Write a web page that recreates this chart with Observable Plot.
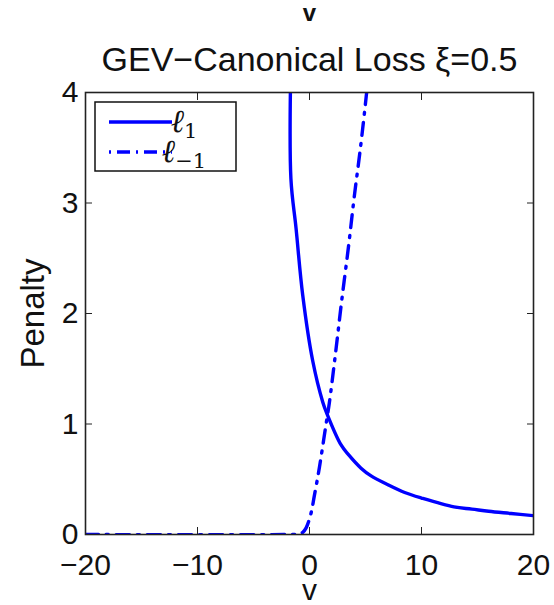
<!DOCTYPE html>
<html>
<head>
<meta charset="utf-8">
<script src="https://cdn.jsdelivr.net/npm/d3@7"></script>
<script src="https://cdn.jsdelivr.net/npm/@observablehq/plot@0.6"></script>
<style>
  html, body { margin: 0; padding: 0; background: #fff; }
  #chart { width: 554px; height: 605px; overflow: hidden; }
</style>
</head>
<body>
<div id="chart"></div>
<script>
// Axis ticks
const xTicks = [-20, -10, 0, 10, 20];
const yTicks = [0, 1, 2, 3, 4];

// Loss for label +1 (solid); runs off the top of the axes just left of v = -1.6
const vPos    = [-1.66, -1.66, -1.2, -0.61, 0.29, 1.18, 1.57, 2.82, 3.5, 4.6, 5.5, 7.0, 8.5, 10, 12.9, 14.5, 16, 18, 20];
const lossPos = [4.3,   3.22,  2.77, 2.17,  1.57, 1.2,  1.09, 0.81, 0.72, 0.6, 0.53, 0.45, 0.38, 0.33, 0.25, 0.23, 0.21, 0.19, 0.17];

// Loss for label -1 (dash-dot); zero on the left, then rising steeply past v = 0
const vNeg    = [-20, -2, -1, -0.6, -0.3, 0.13, 0.43, 0.79, 1.03, 1.48, 1.77, 2.3, 2.88, 3.5, 4.0, 4.55, 5.06, 5.2];
const lossNeg = [0,    0,  0.005, 0.02, 0.06, 0.19, 0.35, 0.55, 0.7, 1.0, 1.19, 1.62, 2.12, 2.62, 3.06, 3.5, 3.96, 4.1];

const titleText = "GEV\u2212Canonical Loss \u03BE=0.5";
const xLabel = "v";
const yLabel = "Penalty";

const pos = d3.zip(vPos, lossPos).map(([v, p]) => ({v, p}));
const neg = d3.zip(vNeg, lossNeg).map(([v, p]) => ({v, p}));

const blue = "#0000ff";
const ink = "#111";
const font = "'Liberation Sans', Arial, Helvetica, sans-serif";
const fmt = d => d < 0 ? "\u2212" + Math.abs(d) : String(d);

const plot = Plot.plot({
  width: 554,
  height: 605,
  marginLeft: 85,
  marginRight: 21,
  marginTop: 92,
  marginBottom: 71,
  style: {fontFamily: font, fontSize: "30px", color: ink, background: "#fff"},
  x: {domain: [-20, 20]},
  y: {domain: [0, 4]},
  marks: [
    Plot.lineY(neg, {x: "v", y: "p", stroke: blue, strokeWidth: 3.4, strokeDasharray: "13,8,2,8", curve: "catmull-rom", clip: true}),
    Plot.lineY(pos, {x: "v", y: "p", stroke: blue, strokeWidth: 3.4, curve: "catmull-rom", clip: true}),
    Plot.frame({stroke: "#222", strokeWidth: 1.6}),
    Plot.axisX({ticks: xTicks, tickSize: -7, tickPadding: 26, tickFormat: fmt, label: null, stroke: "#222", fontSize: 30, anchor: "bottom"}),
    Plot.axisX({ticks: xTicks, tickSize: -7, tickFormat: () => "", label: null, stroke: "#222", anchor: "top"}),
    Plot.axisY({ticks: yTicks, tickSize: -7, tickPadding: 14, tickFormat: fmt, label: null, stroke: "#222", fontSize: 30, anchor: "left"}),
    Plot.axisY({ticks: yTicks, tickSize: -7, tickFormat: () => "", label: null, stroke: "#222", anchor: "right"}),
    Plot.text([titleText], {frameAnchor: "top", dy: -22, fontSize: 34, lineAnchor: "bottom", fill: ink}),
    Plot.text(["v"], {frameAnchor: "top", dy: -72, fontSize: 24, fontWeight: "bold", lineAnchor: "bottom", fill: ink}),
    Plot.text([xLabel], {frameAnchor: "bottom", dy: 56, fontSize: 30, lineAnchor: "middle", fill: ink}),
    Plot.text([yLabel], {frameAnchor: "left", dx: -52, rotate: -90, fontSize: 33, textAnchor: "middle", lineAnchor: "middle", fill: ink})
  ]
});

document.getElementById("chart").appendChild(plot);

// Legend box in the upper-left corner of the axes
const svg = d3.select(plot);
const lg = svg.append("g").attr("transform", "translate(95,102)");
lg.append("rect").attr("width", 141).attr("height", 69)
  .attr("fill", "#fff").attr("stroke", ink).attr("stroke-width", 1.5);
const entries = [
  {dash: null, sub: "1", y: 20},
  {dash: "2,6,13,6", sub: "\u22121", y: 50}
];
for (const e of entries) {
  const ln = lg.append("line").attr("x1", 14).attr("x2", 77).attr("y1", e.y).attr("y2", e.y)
    .attr("stroke", blue).attr("stroke-width", 3.6);
  if (e.dash) ln.attr("stroke-dasharray", e.dash);
  const t = lg.append("text").attr("x", 89).attr("y", e.y + 10)
    .attr("font-family", "'DejaVu Serif', serif").attr("font-size", 32).attr("fill", ink);
  t.append("tspan").attr("font-style", "italic").text("\u2113");
  t.append("tspan").attr("font-size", 21).attr("dy", 6).text(e.sub);
}
</script>
</body>
</html>
